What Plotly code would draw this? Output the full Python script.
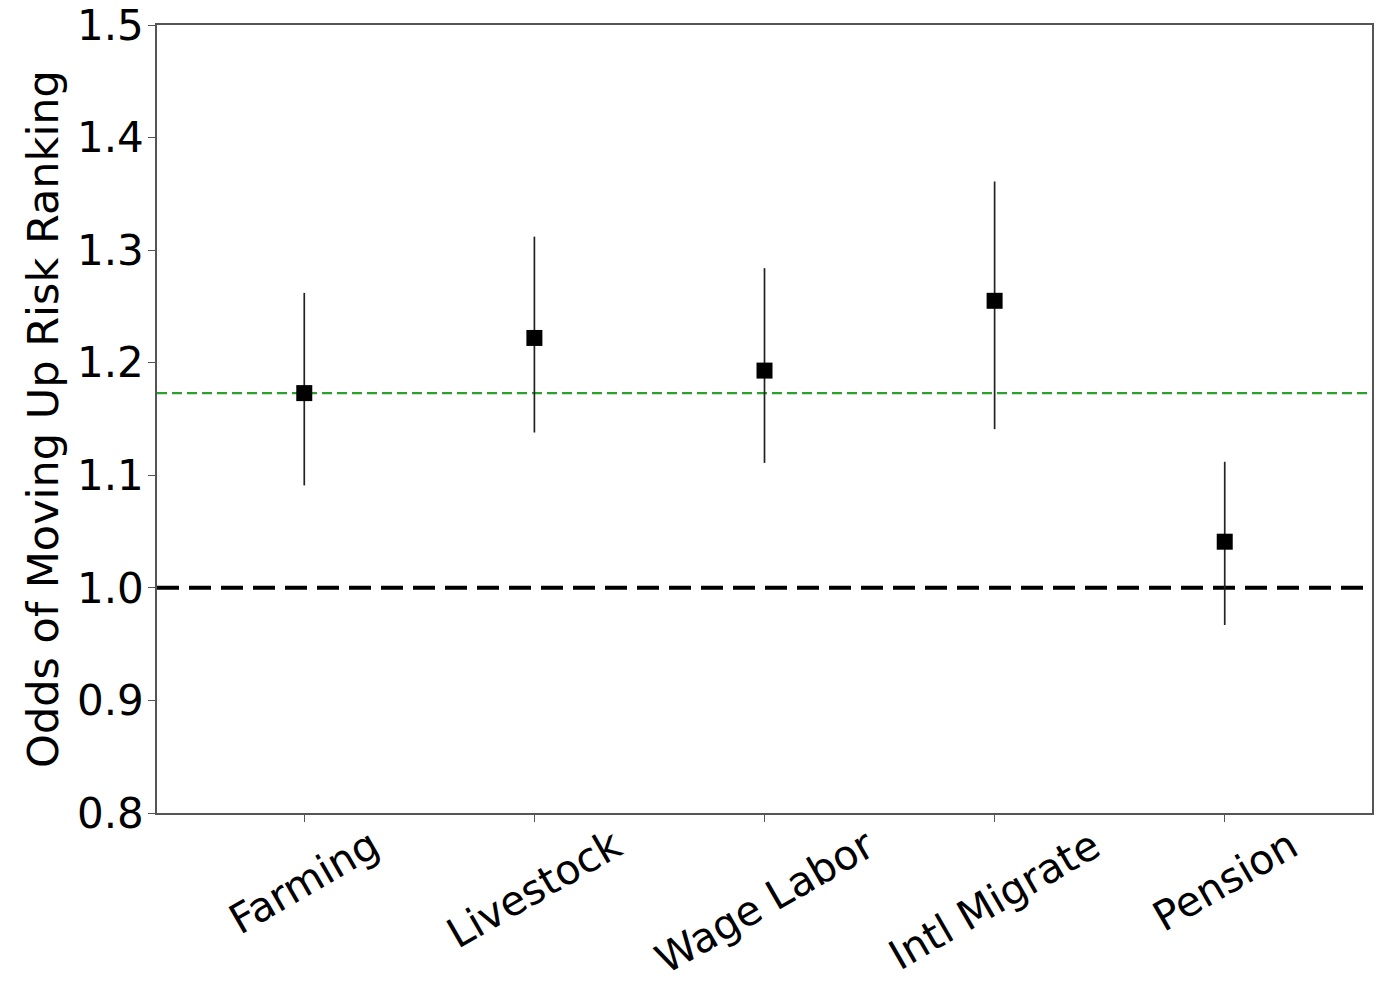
import plotly.graph_objects as go

categories = ["Farming", "Livestock", "Wage Labor", "Intl Migrate", "Pension"]
odds = [1.173, 1.222, 1.193, 1.255, 1.041]
ci_upper = [1.262, 1.312, 1.284, 1.361, 1.112]
ci_lower = [1.091, 1.138, 1.111, 1.141, 0.967]
reference_line = 1.173
null_line = 1.0
y_ticks = [0.8, 0.9, 1.0, 1.1, 1.2, 1.3, 1.4, 1.5]

FONT = "DejaVu Sans"

err_plus = [u - o for u, o in zip(ci_upper, odds)]
err_minus = [o - l for o, l in zip(odds, ci_lower)]

fig = go.Figure()

fig.add_trace(go.Scatter(
    x=categories, y=odds, mode="markers",
    marker=dict(symbol="square", size=16, color="black"),
    error_y=dict(type="data", symmetric=False, array=err_plus, arrayminus=err_minus,
                 color="#222222", thickness=1.7, width=0),
    showlegend=False,
))

fig.add_shape(type="line", xref="paper", x0=0, x1=1, yref="y", y0=null_line, y1=null_line,
              line=dict(color="black", width=4, dash="22px,10px"), layer="below")
fig.add_shape(type="line", xref="paper", x0=0, x1=1, yref="y", y0=reference_line, y1=reference_line,
              line=dict(color="#2ca02c", width=2.4, dash="10px,5px"), layer="below")

for c in categories:
    fig.add_annotation(x=c, xref="x", y=0, yref="paper", text=c, showarrow=False,
                       textangle=-30, xanchor="center", yanchor="top", yshift=-6,
                       borderpad=0,
                       font=dict(family=FONT, size=41, color="black"))

fig.update_layout(
    width=1379, height=983,
    margin=dict(l=157, r=7, t=25, b=170),
    plot_bgcolor="white", paper_bgcolor="white",
    font=dict(family=FONT, size=42, color="black"),
    xaxis=dict(type="category", range=[-0.64, 4.64], showticklabels=False, automargin=False,
               ticks="outside", ticklen=7, tickwidth=1.2, tickcolor="#555555",
               showline=True, linecolor="#555555", linewidth=1.5, mirror=True,
               showgrid=False, zeroline=False),
    yaxis=dict(range=[0.8, 1.5], tickvals=y_ticks, ticktext=[f"{v:.1f}" for v in y_ticks],
               automargin=False, ticklabelstandoff=-4,
               ticks="outside", ticklen=7, tickwidth=1.2, tickcolor="#555555",
               showline=True, linecolor="#555555", linewidth=1.5, mirror=True,
               showgrid=False, zeroline=False,
               tickfont=dict(family=FONT, size=42, color="black"),
               title=dict(text="Odds of Moving Up Risk Ranking", standoff=5,
                          font=dict(family=FONT, size=43, color="black"))),
)

fig.write_html("out.html")
